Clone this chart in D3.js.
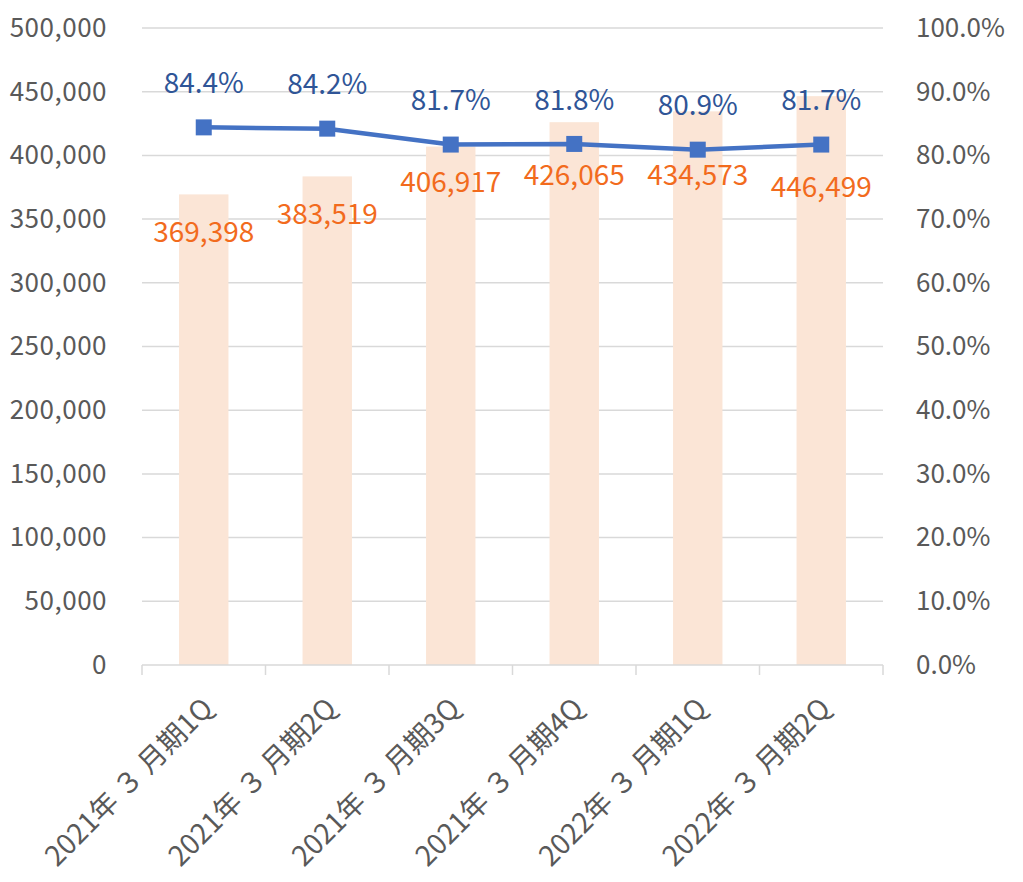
<!DOCTYPE html>
<html>
<head>
<meta charset="utf-8">
<script src="https://cdn.jsdelivr.net/npm/d3@7"></script>
<style>
  body { margin: 0; background: #fff; }
  text { font-family: "Noto Sans CJK JP", "Noto Sans", sans-serif; }
</style>
</head>
<body>
<div id="graph"></div>
<script>
// data
const quarters = ["2021年 ３ 月期1Q", "2021年 ３ 月期2Q", "2021年 ３ 月期3Q", "2021年 ３ 月期4Q", "2022年 ３ 月期1Q", "2022年 ３ 月期2Q"];
const amounts = [369398, 383519, 406917, 426065, 434573, 446499];
const ratios = [84.4, 84.2, 81.7, 81.8, 80.9, 81.7];
const leftTicks = [0, 50000, 100000, 150000, 200000, 250000, 300000, 350000, 400000, 450000, 500000];
const rightTicks = [0, 10, 20, 30, 40, 50, 60, 70, 80, 90, 100];

const margin = {top: 28, right: 140, bottom: 217, left: 142},
    width = 1023 - margin.left - margin.right,
    height = 882 - margin.top - margin.bottom;

const svg = d3.select("#graph")
  .append("svg")
    .attr("width", 1023)
    .attr("height", 882)
  .append("g")
    .attr("transform", `translate(${margin.left},${margin.top})`);

const x = d3.scaleBand()
  .domain(quarters)
  .range([0, width])
  .paddingInner(0.6)
  .paddingOuter(0.3);

const y = d3.scaleLinear()
  .domain([0, 500000])
  .range([height, 0]);

const y2 = d3.scaleLinear()
  .domain([0, 100])
  .range([height, 0]);

// gridlines
svg.append("g")
  .selectAll("line")
  .data(leftTicks.slice(1))
  .join("line")
    .attr("x1", 0)
    .attr("x2", width)
    .attr("y1", d => y(d))
    .attr("y2", d => y(d))
    .attr("stroke", "#d9d9d9")
    .attr("stroke-width", 1.5);

// left axis
const yAxis = svg.append("g")
  .call(d3.axisLeft(y).tickValues(leftTicks).tickFormat(d3.format(",")).tickSize(0).tickPadding(35));
yAxis.select(".domain").remove();
yAxis.selectAll("text")
  .attr("fill", "#595959")
  .style("font-size", "26px")
  .style("letter-spacing", "0.5px");

// right axis
const yAxis2 = svg.append("g")
  .attr("transform", `translate(${width},0)`)
  .call(d3.axisRight(y2).tickValues(rightTicks).tickFormat(d => d.toFixed(1) + "%").tickSize(0).tickPadding(33));
yAxis2.select(".domain").remove();
yAxis2.selectAll("text")
  .attr("fill", "#595959")
  .style("font-size", "26px");

// bars
svg.selectAll("rect.bar")
  .data(amounts)
  .join("rect")
    .attr("class", "bar")
    .attr("x", (d, i) => x(quarters[i]))
    .attr("y", d => y(d))
    .attr("width", x.bandwidth())
    .attr("height", d => height - y(d))
    .attr("fill", "#fbe5d6");

// bottom axis
const step = x.step();
const xAxis = svg.append("g")
  .attr("transform", `translate(0,${height})`);
xAxis.append("line")
  .attr("x1", 0).attr("x2", width)
  .attr("stroke", "#d9d9d9").attr("stroke-width", 1.5);
xAxis.selectAll("line.tick")
  .data(d3.range(quarters.length + 1))
  .join("line")
    .attr("class", "tick")
    .attr("x1", d => d * step).attr("x2", d => d * step)
    .attr("y1", 0).attr("y2", 10)
    .attr("stroke", "#d9d9d9").attr("stroke-width", 1.5);
xAxis.selectAll("text")
  .data(quarters)
  .join("text")
    .attr("transform", d => `translate(${x(d) + x.bandwidth() / 2 + 4},${38}) rotate(-45)`)
    .attr("text-anchor", "end")
    .attr("dy", "0.35em")
    .attr("fill", "#595959")
    .style("font-size", "28px")
    .text(d => d);

// bar labels (nudged like the reference, which shifts them to avoid the line)
const labelNudge = [38, 38, 36, 53, 64, 91];
svg.selectAll("text.amount")
  .data(amounts)
  .join("text")
    .attr("class", "amount")
    .attr("x", (d, i) => x(quarters[i]) + x.bandwidth() / 2)
    .attr("y", (d, i) => y(d) + labelNudge[i])
    .attr("dy", "0.35em")
    .attr("text-anchor", "middle")
    .attr("fill", "#f26b1d")
    .style("font-size", "28px")
    .text(d => d3.format(",")(d));

// ratio line
const cx = (d, i) => x(quarters[i]) + x.bandwidth() / 2;
svg.append("path")
  .datum(ratios)
  .attr("fill", "none")
  .attr("stroke", "#4472c4")
  .attr("stroke-width", 4.5)
  .attr("stroke-linejoin", "round")
  .attr("d", d3.line().x(cx).y(d => y2(d)));

svg.selectAll("rect.marker")
  .data(ratios)
  .join("rect")
    .attr("class", "marker")
    .attr("x", (d, i) => cx(d, i) - 8)
    .attr("y", d => y2(d) - 8)
    .attr("width", 16)
    .attr("height", 16)
    .attr("fill", "#4472c4");

svg.selectAll("text.ratio")
  .data(ratios)
  .join("text")
    .attr("class", "ratio")
    .attr("x", cx)
    .attr("y", d => y2(d) - 44)
    .attr("dy", "0.35em")
    .attr("text-anchor", "middle")
    .attr("fill", "#2f5597")
    .style("font-size", "28px")
    .text(d => d.toFixed(1) + "%");
</script>
</body>
</html>
